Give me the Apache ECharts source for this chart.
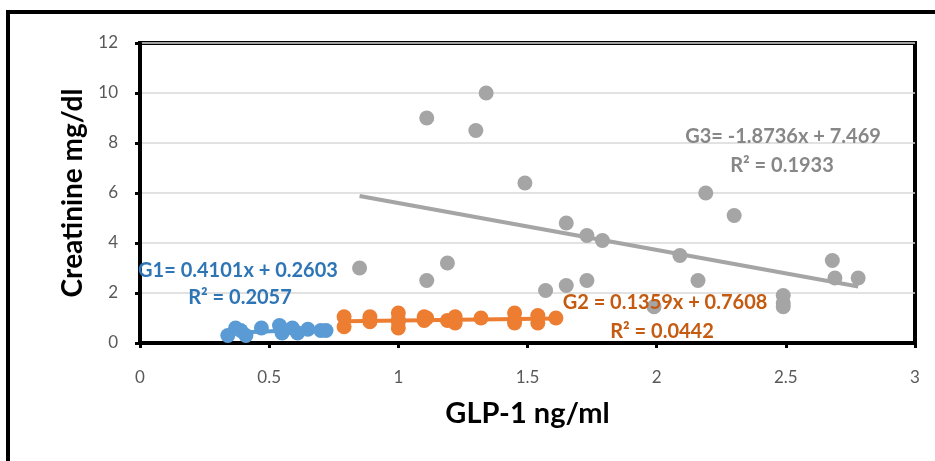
<!DOCTYPE html>
<html>
<head>
<meta charset="utf-8">
<script src="https://cdn.jsdelivr.net/npm/echarts@6/dist/echarts.min.js"></script>
<style>
html,body{margin:0;padding:0;background:#fff;overflow:hidden;}
#frame{position:absolute;left:6px;top:10px;width:2000px;height:2000px;border:4px solid #000;box-sizing:border-box;}
#chart{position:absolute;left:0;top:0;width:935px;height:461px;}
</style>
</head>
<body>
<div id="frame"></div>
<div id="chart"></div>
<script>
// ---- data ----
const xTicks = [0, 0.5, 1, 1.5, 2, 2.5, 3];
const yTicks = [0, 2, 4, 6, 8, 10, 12];

const g1X = [0.34, 0.37, 0.39, 0.41, 0.47, 0.54, 0.55, 0.59, 0.61, 0.65, 0.70, 0.72];
const g1Y = [0.30, 0.60, 0.50, 0.30, 0.60, 0.70, 0.40, 0.60, 0.40, 0.55, 0.50, 0.50];

const g2X = [0.79, 0.79, 0.89, 0.89, 0.89, 1.00, 1.00, 1.00, 1.00, 1.10, 1.10, 1.11, 1.19, 1.22, 1.22, 1.32, 1.45, 1.45, 1.45, 1.54, 1.54, 1.61];
const g2Y = [1.05, 0.65, 1.05, 0.95, 0.85, 1.20, 0.95, 0.85, 0.60, 1.05, 0.90, 1.00, 0.90, 1.05, 0.80, 1.00, 1.20, 0.90, 0.80, 1.10, 0.80, 1.00];

const g3X = [0.85, 1.11, 1.11, 1.19, 1.30, 1.34, 1.49, 1.57, 1.65, 1.65, 1.73, 1.73, 1.79, 1.99, 2.09, 2.16, 2.19, 2.30, 2.49, 2.49, 2.49, 2.68, 2.69, 2.78];
const g3Y = [3.0, 9.0, 2.5, 3.2, 8.5, 10.0, 6.4, 2.1, 4.8, 2.3, 4.3, 2.5, 4.1, 1.45, 3.5, 2.5, 6.0, 5.1, 1.9, 1.6, 1.45, 3.3, 2.6, 2.6];

const slopes = [0.4101, 0.1359, -1.8736];
const intercepts = [0.2603, 0.7608, 7.469];
const eqLabels = ['G1= 0.4101x + 0.2603', 'G2 = 0.1359x + 0.7608', 'G3= -1.8736x + 7.469'];
const r2Labels = ['R² = 0.2057', 'R² = 0.0442', 'R² = 0.1933'];

const markColors = ['#5B9BD5', '#ED7D31', '#A5A5A5'];
const textColors = ['#2E75B6', '#C55A11', '#878787'];

// ---- build ----
const groupsX = [g1X, g2X, g3X];
const groupsY = [g1Y, g2Y, g3Y];
const FONT = 'Lato, "Open Sans", sans-serif';

const series = [];
groupsX.forEach((xs, i) => {
  const lo = Math.min(...xs), hi = Math.max(...xs);
  series.push({
    type: 'line', z: 2, silent: true, showSymbol: false, symbol: 'none',
    data: [[lo, slopes[i] * lo + intercepts[i]], [hi, slopes[i] * hi + intercepts[i]]],
    lineStyle: { color: markColors[i], width: 4 }
  });
});
groupsX.forEach((xs, i) => {
  series.push({
    type: 'scatter', z: 3, symbolSize: 15,
    itemStyle: { color: markColors[i], opacity: 1 },
    data: xs.map((x, k) => [x, groupsY[i][k]])
  });
});

const labelPos = [
  { eq: [238, 271], r2: [240, 298] },
  { eq: [665, 303], r2: [662, 332] },
  { eq: [783, 137], r2: [782, 166] }
];
const graphic = [];
labelPos.forEach((p, i) => {
  graphic.push({ type: 'text', x: p.eq[0], y: p.eq[1], z: 10,
    style: { text: eqLabels[i], fill: textColors[i], font: 'bold 20px ' + FONT, align: 'center', verticalAlign: 'middle' } });
  graphic.push({ type: 'text', x: p.r2[0], y: p.r2[1], z: 10,
    style: { text: r2Labels[i], fill: textColors[i], font: 'bold 20px ' + FONT, align: 'center', verticalAlign: 'middle' } });
});

const chart = echarts.init(document.getElementById('chart'), null, { renderer: 'canvas' });
chart.setOption({
  animation: false,
  backgroundColor: 'transparent',
  grid: { left: 140, right: 20, top: 43, bottom: 118, show: true, borderColor: '#000', borderWidth: 4 },
  xAxis: {
    type: 'value', min: xTicks[0], max: xTicks[xTicks.length - 1], interval: xTicks[1] - xTicks[0],
    name: 'GLP-1 ng/ml', nameLocation: 'middle', nameGap: 56,
    nameTextStyle: { fontFamily: FONT, fontWeight: 'bold', fontSize: 29, color: '#000' },
    axisLine: { show: true, onZero: false, lineStyle: { color: '#000', width: 4 } },
    axisTick: { show: true, length: 5, lineStyle: { color: '#000', width: 3 } },
    axisLabel: { margin: 26, fontFamily: FONT, fontSize: 17, color: '#595959' },
    splitLine: { show: false }
  },
  yAxis: {
    type: 'value', min: yTicks[0], max: yTicks[yTicks.length - 1], interval: yTicks[1] - yTicks[0],
    name: 'Creatinine mg/dl', nameLocation: 'middle', nameGap: 51,
    nameTextStyle: { fontFamily: FONT, fontWeight: 'bold', fontSize: 28, color: '#000' },
    axisLine: { show: true, onZero: false, lineStyle: { color: '#000', width: 4 } },
    axisTick: { show: true, length: 5, lineStyle: { color: '#000', width: 3 } },
    axisLabel: { margin: 22, fontFamily: FONT, fontSize: 17, color: '#595959' },
    splitLine: { show: true, lineStyle: { color: '#D9D9D9', width: 1.5 } }
  },
  graphic: graphic,
  series: series
});
</script>
</body>
</html>
